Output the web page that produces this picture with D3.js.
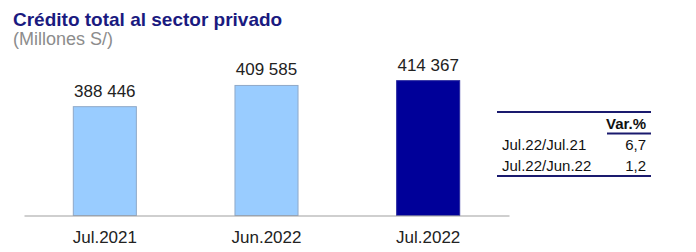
<!DOCTYPE html>
<html>
<head>
<meta charset="utf-8">
<script src="https://cdn.jsdelivr.net/npm/d3@7"></script>
<style>
  body { margin: 0; background: #fff; }
  text { font-family: "Liberation Sans", Arial, sans-serif; }
</style>
</head>
<body>
<div id="chart"></div>
<script>
// chart data
const categories = ["Jul.2021", "Jun.2022", "Jul.2022"];
const values = [388446, 409585, 414367];
const barColors = ["#99ccff", "#99ccff", "#000099"];

const tableHeader = "Var.%";
const tableLabels = ["Jul.22/Jul.21", "Jul.22/Jun.22"];
const tableValues = ["6,7", "1,2"];

const width = 696, height = 252;

const svg = d3.select("#chart")
  .append("svg")
  .attr("width", width)
  .attr("height", height);

// title
svg.append("text")
  .attr("x", 13)
  .attr("y", 26)
  .text("Crédito total al sector privado")
  .attr("style", "fill: #1a1a80; font-size: 19px; font-weight: bold");

svg.append("text")
  .attr("x", 13)
  .attr("y", 45)
  .text("(Millones S/)")
  .attr("style", "fill: #8c8c8c; font-size: 18px");

// scales
const x = d3.scaleBand()
  .domain(categories)
  .range([24, 509])
  .paddingInner(0.61)
  .paddingOuter(0.305);

const y = d3.scaleLinear()
  .domain([280000, 420000])
  .range([215.5, 75]);

// bars
svg.selectAll("rect.bar")
  .data(values)
  .join("rect")
  .attr("class", "bar")
  .attr("x", (d, i) => x(categories[i]))
  .attr("y", d => y(d))
  .attr("width", x.bandwidth())
  .attr("height", d => y.range()[0] - y(d))
  .attr("fill", (d, i) => barColors[i])
  .attr("stroke", (d, i) => i === 2 ? "#2a2aa0" : "#8fa8c8")
  .attr("stroke-width", 1);

// value labels
svg.selectAll("text.val")
  .data(values)
  .join("text")
  .attr("class", "val")
  .attr("x", (d, i) => x(categories[i]) + x.bandwidth() / 2)
  .attr("y", d => y(d) - 10)
  .attr("text-anchor", "middle")
  .attr("style", "fill: #222; font-size: 17px")
  .text(d => d3.format(",")(d).replace(/,/g, " "));

// x axis
const xAxis = svg.append("g")
  .attr("transform", `translate(0, ${y.range()[0]})`)
  .call(d3.axisBottom(x).tickSize(0).tickPadding(15));
xAxis.select(".domain").attr("stroke", "#a0a0a0").attr("stroke-width", 1.2);
xAxis.selectAll("text")
  .attr("style", "fill: #222; font-size: 17px; font-family: 'Liberation Sans', Arial, sans-serif");

// variation table
const tx0 = 497, tx1 = 651, tRight = 646;
const navy = "#1a1a6e";

svg.append("line")
  .attr("x1", tx0).attr("x2", tx1)
  .attr("y1", 112).attr("y2", 112)
  .attr("stroke", navy).attr("stroke-width", 2);

svg.append("text")
  .attr("x", tRight)
  .attr("y", 129)
  .attr("text-anchor", "end")
  .attr("style", "fill: #111; font-size: 15px; font-weight: bold")
  .text(tableHeader);

svg.append("line")
  .attr("x1", 607).attr("x2", tx1)
  .attr("y1", 133.5).attr("y2", 133.5)
  .attr("stroke", navy).attr("stroke-width", 2);

const rows = svg.selectAll("g.row")
  .data(tableLabels)
  .join("g")
  .attr("class", "row")
  .attr("transform", (d, i) => `translate(0, ${150 + i * 21})`);

rows.append("text")
  .attr("x", 502)
  .attr("style", "fill: #111; font-size: 15px")
  .text(d => d);

rows.append("text")
  .attr("x", tRight)
  .attr("text-anchor", "end")
  .attr("style", "fill: #111; font-size: 15px")
  .text((d, i) => tableValues[i]);

svg.append("line")
  .attr("x1", tx0).attr("x2", tx1)
  .attr("y1", 176).attr("y2", 176)
  .attr("stroke", navy).attr("stroke-width", 2);
</script>
</body>
</html>
